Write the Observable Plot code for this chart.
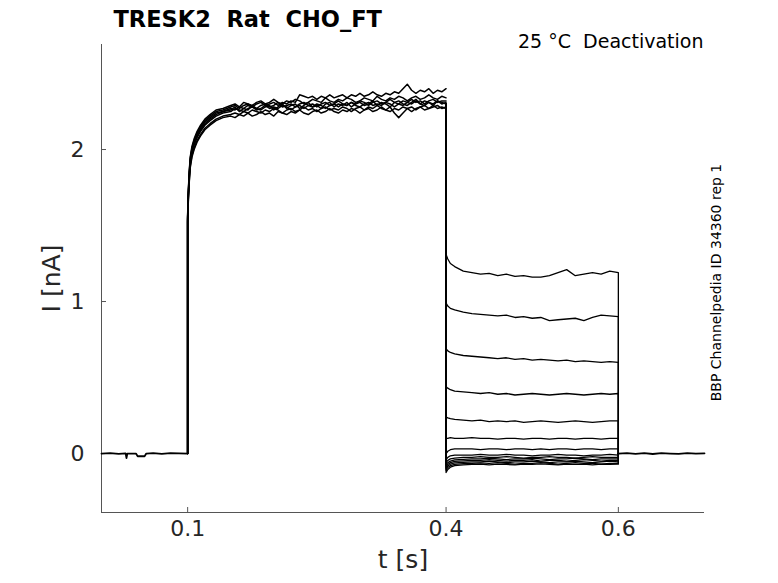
<!DOCTYPE html>
<html>
<head>
<meta charset="utf-8">
<script src="https://cdn.jsdelivr.net/npm/d3@7"></script>
<script src="https://cdn.jsdelivr.net/npm/@observablehq/plot@0.6"></script>
<style>
  html, body { margin: 0; padding: 0; background: #fff; }
  svg text { white-space: pre; }
</style>
</head>
<body>
<div id="chart"></div>
<script>
// ---------- data ----------
const titleText = "TRESK2  Rat  CHO_FT";
const noteText = "25 °C  Deactivation";
const sideText = "BBP Channelpedia ID 34360 rep 1";
const xLabel = "t [s]";
const yLabel = "I [nA]";
const xDomain = [0, 0.7];
const yDomain = [-0.388, 2.691];
const xTicks = [0.1, 0.4, 0.6];
const xTickLabels = ["0.1", "0.4", "0.6"];
const yTicks = [0, 1, 2];
const yTickLabels = ["0", "1", "2"];

// holding baseline before the step
const preT = [0, 0.01, 0.02, 0.028, 0.029, 0.030, 0.040, 0.042, 0.050, 0.052, 0.06, 0.07, 0.08, 0.09, 0.1];
const preI = [0, 0.003, -0.002, 0.001, -0.03, 0.0, 0.0, -0.018, -0.018, 0.0, 0.002, -0.002, 0.003, 0.001, 0];

// activation phase (0.1 - 0.4 s)
const actT = [0.1, 0.1, 0.1008, 0.1018, 0.103, 0.105, 0.1075, 0.111, 0.115, 0.12, 0.126, 0.133, 0.141,
  0.150, 0.155, 0.160, 0.165, 0.170, 0.175, 0.180, 0.185, 0.190, 0.195,
  0.200, 0.205, 0.210, 0.215, 0.220, 0.225, 0.230, 0.235, 0.240, 0.245,
  0.250, 0.255, 0.260, 0.265, 0.270, 0.275, 0.280, 0.285, 0.290, 0.295,
  0.300, 0.305, 0.310, 0.315, 0.320, 0.325, 0.330, 0.335, 0.340, 0.345,
  0.350, 0.355, 0.360, 0.365, 0.370, 0.375, 0.380, 0.385, 0.390, 0.395,
  0.400];
const actA = [0, 1.57, 1.73, 1.85, 1.95, 2.02, 2.07, 2.12, 2.16, 2.20, 2.23, 2.26, 2.27,
  2.29, 2.30, 2.28, 2.31, 2.30, 2.29, 2.31, 2.32, 2.30, 2.31,
  2.33, 2.31, 2.30, 2.32, 2.31, 2.33, 2.32, 2.30, 2.31, 2.33,
  2.32, 2.31, 2.34, 2.32, 2.31, 2.33, 2.32, 2.34, 2.33, 2.31,
  2.32, 2.34, 2.33, 2.32, 2.35, 2.33, 2.32, 2.34, 2.33, 2.35,
  2.34, 2.32, 2.34, 2.35, 2.33, 2.34, 2.36, 2.34, 2.33, 2.35,
  2.34];
const actB = [0, 1.55, 1.71, 1.83, 1.93, 2.00, 2.05, 2.10, 2.14, 2.18, 2.21, 2.24, 2.25,
  2.27, 2.26, 2.28, 2.27, 2.29, 2.28, 2.27, 2.29, 2.30, 2.28,
  2.29, 2.31, 2.28, 2.29, 2.30, 2.28, 2.30, 2.31, 2.29, 2.30,
  2.28, 2.30, 2.31, 2.29, 2.30, 2.32, 2.30, 2.29, 2.31, 2.30,
  2.32, 2.31, 2.29, 2.31, 2.32, 2.30, 2.31, 2.33, 2.31, 2.30,
  2.32, 2.31, 2.33, 2.31, 2.32, 2.30, 2.32, 2.33, 2.31, 2.32,
  2.32];
const actC = [0, 1.54, 1.69, 1.81, 1.91, 1.98, 2.03, 2.08, 2.12, 2.16, 2.19, 2.22, 2.24,
  2.25, 2.27, 2.26, 2.25, 2.27, 2.28, 2.26, 2.27, 2.29, 2.27,
  2.28, 2.27, 2.29, 2.28, 2.26, 2.28, 2.29, 2.27, 2.29, 2.28,
  2.30, 2.29, 2.27, 2.29, 2.30, 2.28, 2.30, 2.29, 2.31, 2.29,
  2.28, 2.30, 2.31, 2.29, 2.30, 2.29, 2.31, 2.30, 2.28, 2.30,
  2.29, 2.31, 2.30, 2.32, 2.30, 2.29, 2.31, 2.30, 2.32, 2.31,
  2.30];
const actD = [0, 1.53, 1.67, 1.79, 1.89, 1.96, 2.01, 2.06, 2.10, 2.14, 2.17, 2.20, 2.22,
  2.23, 2.24, 2.23, 2.25, 2.24, 2.26, 2.25, 2.24, 2.26, 2.25,
  2.27, 2.26, 2.24, 2.26, 2.27, 2.25, 2.26, 2.28, 2.26, 2.27,
  2.25, 2.27, 2.28, 2.26, 2.27, 2.26, 2.28, 2.27, 2.25, 2.27,
  2.28, 2.26, 2.28, 2.27, 2.29, 2.27, 2.26, 2.28, 2.24, 2.21,
  2.24, 2.27, 2.28, 2.26, 2.28, 2.29, 2.27, 2.28, 2.29, 2.27,
  2.28];
const actE = [0, 1.56, 1.72, 1.84, 1.94, 2.01, 2.06, 2.11, 2.15, 2.19, 2.22, 2.25, 2.26,
  2.28, 2.29, 2.27, 2.29, 2.30, 2.28, 2.30, 2.31, 2.29, 2.30,
  2.31, 2.29, 2.31, 2.30, 2.32, 2.31, 2.36, 2.35, 2.34, 2.35,
  2.33, 2.35, 2.34, 2.36, 2.34, 2.35, 2.36, 2.34, 2.36, 2.35,
  2.37, 2.35, 2.36, 2.38, 2.36, 2.35, 2.37, 2.36, 2.38, 2.37,
  2.40, 2.43, 2.39, 2.37, 2.39, 2.38, 2.40, 2.37, 2.39, 2.38,
  2.40];
const actF = [0, 1.52, 1.66, 1.78, 1.88, 1.95, 2.00, 2.05, 2.09, 2.13, 2.16, 2.19, 2.21,
  2.22, 2.21, 2.23, 2.22, 2.24, 2.22, 2.23, 2.25, 2.23, 2.24,
  2.22, 2.25, 2.24, 2.23, 2.25, 2.24, 2.26, 2.24, 2.23, 2.25,
  2.26, 2.24, 2.25, 2.27, 2.25, 2.24, 2.26, 2.25, 2.27, 2.26,
  2.24, 2.26, 2.27, 2.25, 2.26, 2.28, 2.26, 2.25, 2.27, 2.26,
  2.28, 2.27, 2.25, 2.27, 2.28, 2.26, 2.27, 2.29, 2.27, 2.28,
  2.27];
const actG = [0, 1.55, 1.70, 1.82, 1.92, 1.99, 2.04, 2.09, 2.13, 2.17, 2.20, 2.23, 2.25,
  2.26, 2.28, 2.25, 2.27, 2.26, 2.29, 2.27, 2.26, 2.28, 2.29,
  2.26, 2.28, 2.30, 2.27, 2.29, 2.30, 2.27, 2.29, 2.31, 2.28,
  2.29, 2.27, 2.30, 2.31, 2.28, 2.30, 2.29, 2.31, 2.28, 2.30,
  2.31, 2.29, 2.30, 2.32, 2.29, 2.31, 2.30, 2.28, 2.31, 2.32,
  2.30, 2.29, 2.31, 2.33, 2.30, 2.32, 2.31, 2.29, 2.32, 2.30,
  2.31];

// deactivation phase (0.4 - 0.6 s), one trace per test potential
const deacT = [0.4, 0.4, 0.402, 0.405, 0.41, 0.42, 0.43, 0.44, 0.45, 0.46, 0.47, 0.48, 0.49,
  0.50, 0.51, 0.52, 0.53, 0.54, 0.55, 0.56, 0.57, 0.58, 0.59, 0.60, 0.60];
const deac1 = [2.30, 1.31, 1.28, 1.25, 1.23, 1.20, 1.19, 1.18, 1.185, 1.17, 1.18, 1.165, 1.17, 1.16, 1.16, 1.17, 1.19, 1.21, 1.17, 1.18, 1.19, 1.18, 1.20, 1.19, 0];
const deac2 = [2.30, 0.99, 0.97, 0.955, 0.945, 0.93, 0.92, 0.915, 0.91, 0.905, 0.91, 0.895, 0.90, 0.89, 0.895, 0.875, 0.88, 0.885, 0.89, 0.875, 0.895, 0.91, 0.905, 0.90, 0];
const deac3 = [2.30, 0.69, 0.675, 0.665, 0.655, 0.645, 0.64, 0.635, 0.63, 0.625, 0.63, 0.62, 0.625, 0.615, 0.62, 0.615, 0.61, 0.615, 0.605, 0.61, 0.605, 0.60, 0.605, 0.60, 0];
const deac4 = [2.30, 0.44, 0.43, 0.42, 0.41, 0.405, 0.40, 0.395, 0.40, 0.39, 0.395, 0.385, 0.39, 0.395, 0.39, 0.385, 0.39, 0.395, 0.39, 0.385, 0.39, 0.395, 0.39, 0.395, 0];
const deac5 = [2.30, 0.24, 0.235, 0.23, 0.225, 0.22, 0.215, 0.22, 0.21, 0.215, 0.21, 0.215, 0.205, 0.21, 0.215, 0.21, 0.205, 0.21, 0.215, 0.21, 0.205, 0.21, 0.215, 0.215, 0];
const deac6 = [2.30, 0.10, 0.10, 0.105, 0.10, 0.10, 0.105, 0.10, 0.10, 0.095, 0.10, 0.10, 0.095, 0.10, 0.10, 0.095, 0.10, 0.10, 0.095, 0.10, 0.10, 0.095, 0.10, 0.10, 0];
const deac7 = [2.30, 0.00, 0.015, 0.025, 0.03, 0.03, 0.03, 0.025, 0.03, 0.03, 0.025, 0.03, 0.03, 0.025, 0.03, 0.025, 0.03, 0.03, 0.025, 0.03, 0.03, 0.025, 0.03, 0.03, 0];
const deac8 = [2.30, -0.04, -0.025, -0.015, -0.01, -0.01, -0.01, -0.005, -0.01, -0.01, -0.005, -0.01, -0.01, -0.015, -0.01, -0.01, -0.005, -0.01, -0.01, -0.015, -0.01, -0.01, -0.005, -0.01, 0];
const deac9 = [2.30, -0.06, -0.045, -0.035, -0.03, -0.025, -0.025, -0.02, -0.025, -0.025, -0.02, -0.025, -0.03, -0.025, -0.025, -0.02, -0.025, -0.025, -0.03, -0.025, -0.02, -0.025, -0.025, -0.025, 0];
const deac10 = [2.30, -0.075, -0.06, -0.05, -0.042, -0.038, -0.035, -0.035, -0.03, -0.035, -0.04, -0.035, -0.035, -0.03, -0.035, -0.04, -0.035, -0.035, -0.03, -0.035, -0.04, -0.035, -0.035, -0.035, 0];
const deac11 = [2.30, -0.09, -0.072, -0.06, -0.052, -0.048, -0.045, -0.045, -0.04, -0.045, -0.05, -0.045, -0.045, -0.04, -0.05, -0.045, -0.045, -0.05, -0.045, -0.04, -0.045, -0.05, -0.045, -0.045, 0];
const deac12 = [2.30, -0.10, -0.082, -0.07, -0.062, -0.058, -0.055, -0.055, -0.05, -0.055, -0.06, -0.055, -0.055, -0.05, -0.055, -0.06, -0.055, -0.055, -0.05, -0.055, -0.06, -0.055, -0.05, -0.055, 0];
const deac13 = [2.30, -0.11, -0.092, -0.08, -0.072, -0.067, -0.065, -0.062, -0.065, -0.06, -0.065, -0.07, -0.065, -0.065, -0.06, -0.065, -0.07, -0.065, -0.06, -0.065, -0.065, -0.07, -0.065, -0.065, 0];
const deac14 = [2.30, -0.125, -0.105, -0.09, -0.08, -0.075, -0.072, -0.07, -0.075, -0.07, -0.072, -0.075, -0.07, -0.072, -0.068, -0.072, -0.075, -0.07, -0.072, -0.07, -0.075, -0.07, -0.072, -0.07, 0];

// baseline after the deactivation step
const postT = [0.6, 0.61, 0.62, 0.63, 0.64, 0.65, 0.66, 0.67, 0.68, 0.69, 0.7];
const postI = [0, 0.003, -0.002, 0.002, -0.003, 0.002, 0, -0.002, 0.003, -0.001, 0.001];

// ---------- tidy rows ----------
const actCurves = [actA, actB, actC, actD, actE, actF, actG];
const deacCurves = [deac1, deac2, deac3, deac4, deac5, deac6, deac7, deac8, deac9, deac10, deac11, deac12, deac13, deac14];

const baseRows = [];
preT.forEach((t, j) => baseRows.push({s: "pre", t, v: preI[j]}));
postT.forEach((t, j) => baseRows.push({s: "post", t, v: postI[j]}));
const actRows = [];
actCurves.forEach((c, k) => actT.forEach((t, j) => actRows.push({s: "a" + k, t, v: c[j]})));
const deacRows = [];
deacCurves.forEach((c, k) => deacT.forEach((t, j) => deacRows.push({s: "d" + k, t, v: c[j]})));

const axisColor = "#555";
const labelColor = "#262626";

const chart = Plot.plot({
  width: 778,
  height: 583,
  marginLeft: 101,
  marginRight: 74,
  marginTop: 44,
  marginBottom: 71,
  x: {domain: xDomain, axis: null},
  y: {domain: yDomain, axis: null},
  style: {fontFamily: "DejaVu Sans", background: "#fff", color: "#000", overflow: "visible"},
  marks: [
    // axes lines
    Plot.ruleX([xDomain[0]], {stroke: axisColor, strokeWidth: 1}),
    Plot.ruleY([yDomain[0]], {stroke: axisColor, strokeWidth: 1}),
    Plot.tickX(xTicks, {x: d => d, insetTop: 463, stroke: axisColor}),
    Plot.tickY(yTicks, {y: d => d, insetRight: 598, stroke: axisColor}),
    // tick labels
    Plot.text(xTicks, {x: d => d, text: (d, i) => xTickLabels[i], frameAnchor: "bottom", textAnchor: "middle", dy: 23, fontSize: 22, fill: labelColor}),
    Plot.text(yTicks, {y: d => d, text: (d, i) => yTickLabels[i], frameAnchor: "left", textAnchor: "end", dx: -17, fontSize: 22, fill: labelColor}),
    // axis labels
    Plot.text([xLabel], {text: d => d, frameAnchor: "bottom", textAnchor: "middle", dy: 55, fontSize: 25, fill: labelColor}),
    Plot.text([yLabel], {text: d => d, frameAnchor: "left", textAnchor: "middle", dx: -50, rotate: -90, fontSize: 25, fill: labelColor}),
    // traces
    Plot.line(baseRows, {x: "t", y: "v", z: "s", stroke: "#000", strokeWidth: 1.8}),
    Plot.line(actRows, {x: "t", y: "v", z: "s", stroke: "#000", strokeWidth: 1.5}),
    Plot.line(deacRows, {x: "t", y: "v", z: "s", stroke: "#000", strokeWidth: 1.3}),
    // texts
    Plot.text([titleText], {text: d => d, frameAnchor: "top-left", dx: 12, dy: -18, textAnchor: "start", lineAnchor: "bottom", fontWeight: "bold", fontSize: 22.5, fill: "#000"}),
    Plot.text([noteText], {text: d => d, frameAnchor: "top-right", dx: -1, dy: 3, textAnchor: "end", lineAnchor: "bottom", fontSize: 19, fill: "#000"}),
    Plot.text([sideText], {text: d => d, frameAnchor: "right", textAnchor: "middle", dx: 12, dy: 4, rotate: -90, fontSize: 14, fill: "#000"})
  ]
});
document.getElementById("chart").appendChild(chart);
</script>
</body>
</html>
